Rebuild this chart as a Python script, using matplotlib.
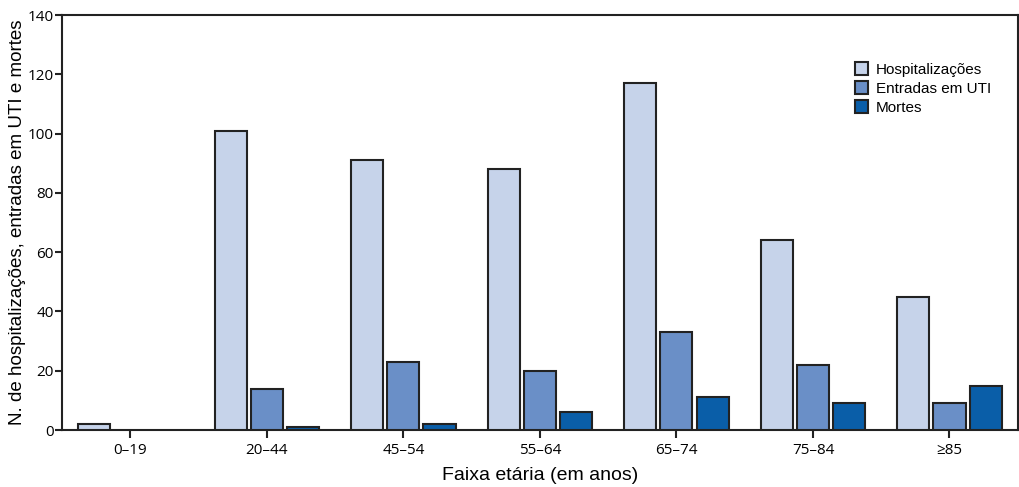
import matplotlib.pyplot as plt
import numpy as np

faixas = ['0–19', '20–44', '45–54', '55–64', '65–74', '75–84', '≥85']
hospitalizacoes = [2, 101, 91, 88, 117, 64, 45]
entradas_uti = [0, 14, 23, 20, 33, 22, 9]
mortes = [0, 1, 2, 6, 11, 9, 15]

cores = ['#c6d3ea', '#6a8fc7', '#0a5ea8']
nomes = ['Hospitalizações', 'Entradas em UTI', 'Mortes']

fig = plt.figure(figsize=(10.2, 4.87), dpi=100)
ax = fig.add_axes([0.0608, 0.117, 0.937, 0.852])

x = np.arange(len(faixas))
w = 0.235
off = 0.265
for i, (vals, cor, nome) in enumerate(zip([hospitalizacoes, entradas_uti, mortes], cores, nomes)):
    vals = np.array(vals)
    mask = vals > 0
    ax.bar(x[mask] + (i - 1) * off, vals[mask], width=w, color=cor,
           edgecolor='#222222', linewidth=1.5, label=nome, zorder=3)

ax.set_xlim(-0.5, len(faixas) - 0.5)
ax.set_ylim(0, 140)
ax.set_yticks(range(0, 141, 20))
ax.set_xticks(x)
ax.set_xticklabels(faixas, fontfamily='Open Sans')
for lab in ax.get_yticklabels():
    lab.set_fontfamily('Open Sans')
ax.tick_params(axis='both', labelsize=11, width=1.5, length=6, color='#222222')
ax.tick_params(axis='y', pad=1, length=5)
for s in ax.spines.values():
    s.set_linewidth(1.5)
    s.set_color('#222222')

ax.set_ylabel('N. de hospitalizações, entradas em UTI e mortes',
              fontfamily='Liberation Sans', fontsize=13.5)
ax.yaxis.set_label_coords(-0.038, 0.5)
ax.set_xlabel('Faixa etária (em anos)', fontfamily='Liberation Sans', fontsize=14, labelpad=6)

leg = ax.legend(loc='upper left', bbox_to_anchor=(0.815, 0.92), frameon=False,
                prop={'family': 'Liberation Sans', 'size': 11},
                handlelength=0.9, handleheight=0.9, handletextpad=0.5, labelspacing=0.3)

fig.savefig('out.png', dpi=100)
